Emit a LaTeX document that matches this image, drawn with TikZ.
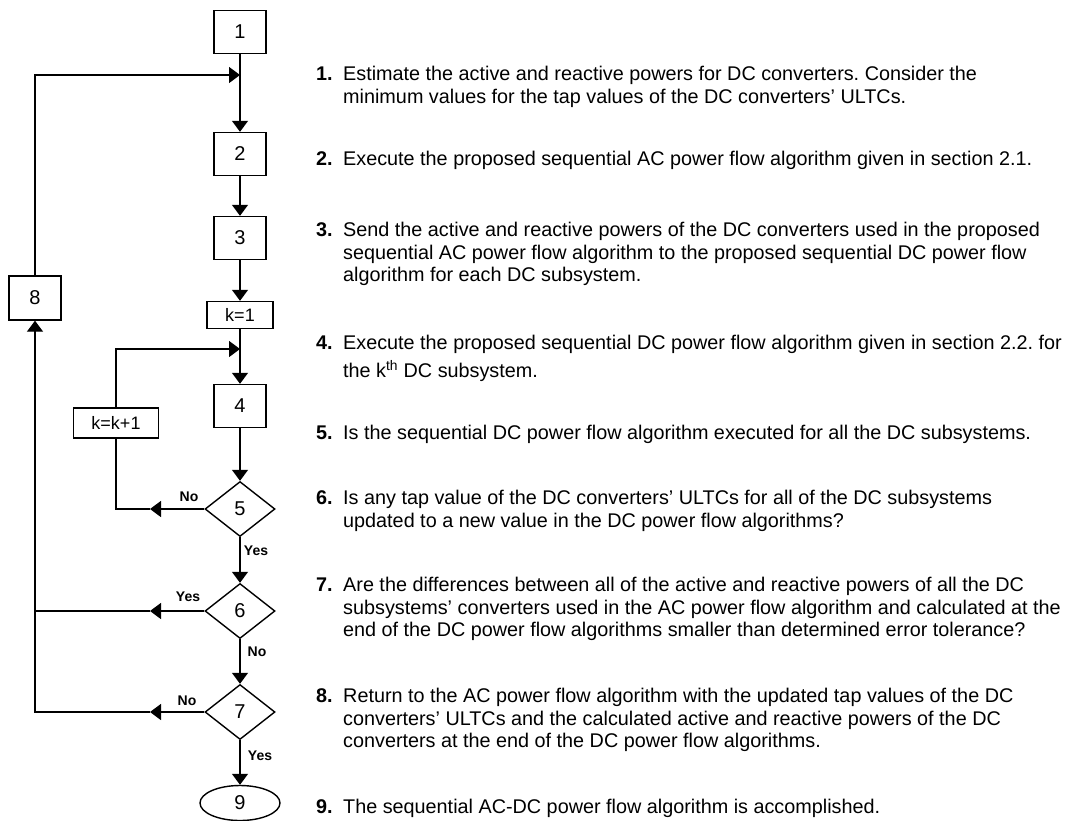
\documentclass[tikz,border=0pt]{standalone}
\usepackage{fontspec}
\setmainfont{Liberation Sans}
\usetikzlibrary{arrows.meta,shapes.geometric}
\frenchspacing

\begin{document}
\begin{tikzpicture}[x=1pt,y=-1pt,
	box/.style={draw, line width=1.4pt, minimum width=52pt, minimum height=43pt, inner sep=0pt, font=\fontsize{20}{20}\selectfont},
	kbox/.style={draw, line width=1.4pt, minimum height=27pt, inner sep=0pt, font=\fontsize{18}{18}\selectfont},
	dec/.style={draw, diamond, line width=1.4pt, minimum width=70pt, minimum height=55pt, inner sep=0pt, font=\fontsize{20}{20}\selectfont},
	term/.style={draw, ellipse, line width=1.4pt, minimum width=80pt, minimum height=35pt, inner sep=0pt, font=\fontsize{20}{20}\selectfont},
	flow/.style={line width=1.4pt, -{Triangle[length=11pt,width=16pt]}},
	wire/.style={line width=1.4pt},
	lbl/.style={inner sep=0pt, font=\fontsize{14}{14}\selectfont\bfseries},
	num/.style={anchor=north west, inner sep=0pt, font=\fontsize{19.8}{22.3}\selectfont\bfseries},
	item/.style={anchor=north west, inner sep=0pt, align=left, font=\fontsize{19.8}{22.3}\selectfont}]
	\useasboundingbox (0,0) rectangle (1065,820);
	% flow chart
	\node[box] (b1) at (240,32) {1};
	\node[box] (b2) at (240,154) {2};
	\node[box] (b3) at (240,238) {3};
	\node[kbox, minimum width=66pt] (k1) at (240,315) {k=1};
	\node[box] (b4) at (240,406) {4};
	\node[kbox, minimum width=85pt, minimum height=30pt] (kk) at (116,423) {k=k+1};
	\node[dec] (d5) at (240,509) {5};
	\node[dec] (d6) at (240,611) {6};
	\node[dec] (d7) at (240,712) {7};
	\node[term] (t9) at (240,803) {9};
	\node[box, minimum height=44pt] (b8) at (35,298) {8};
	\coordinate (j1) at (240,75);
	\coordinate (j2) at (240,349);
	\coordinate (a5) at (150,509);
	\coordinate (a6) at (150,611);
	\coordinate (a7) at (150,712);
	\draw[flow] (b1) -- (b2);
	\draw[flow] (b2) -- (b3);
	\draw[flow] (b3) -- (k1);
	\draw[flow] (k1) -- (b4);
	\draw[flow] (b4) -- (d5);
	\draw[flow] (d5) -- (d6);
	\draw[flow] (d6) -- (d7);
	\draw[flow] (d7) -- (t9);
	\draw[flow] (kk) |- (j2);
	\draw[flow] (b8) |- (j1);
	\draw[flow] (d5.west) -- (a5);
	\draw[wire] (a5) -| (kk.south);
	\draw[flow] (d6.west) -- (a6);
	\draw[wire] (a6) -- (a6 -| b8);
	\draw[flow] (d7.west) -- (a7);
	\draw[flow] (a7) -| (b8.south);
	% yes / no
	\node[lbl] (n5) at (189,497) {No};
	\node[lbl] (y5) at (256,551) {Yes};
	\node[lbl] (y6) at (188,597) {Yes};
	\node[lbl] (n6) at (257,652) {No};
	\node[lbl] (n7) at (187,701) {No};
	\node[lbl] (y7) at (260,756) {Yes};
	% steps
	\node[num] (s1) at (316,65) {\strut 1.};
	\node[item] (t1) at (343,65) {\strut Estimate the active and reactive powers for DC converters. Consider the\\minimum values for the tap values of the DC converters' ULTCs.};
	\node[num] (s2) at (316,150) {\strut 2.};
	\node[item] (t2) at (343,150) {\strut Execute the proposed sequential AC power flow algorithm given in section 2.1.};
	\node[num] (s3) at (316,221) {\strut 3.};
	\node[item] (t3) at (343,221) {\strut Send the active and reactive powers of the DC converters used in the proposed\\sequential AC power flow algorithm to the proposed sequential DC power flow\\algorithm for each DC subsystem.};
	\node[num] (s4) at (316,334) {\strut 4.};
	\node[item] (t4) at (343,334) {\strut Execute the proposed sequential DC power flow algorithm given in section 2.2. for\\[2.7pt]the k\textsuperscript{th} DC subsystem.};
	\node[num] (s5) at (316,424) {\strut 5.};
	\node[item] (t5) at (343,424) {\strut Is the sequential DC power flow algorithm executed for all the DC subsystems.};
	\node[num] (s6) at (316,489) {\strut 6.};
	\node[item] (t6) at (343,489) {\strut Is any tap value of the DC converters' ULTCs for all of the DC subsystems\\updated to a new value in the DC power flow algorithms?};
	\node[num] (s7) at (316,576) {\strut 7.};
	\node[item] (t7) at (343,576) {\strut Are the differences between all of the active and reactive powers of all the DC\\subsystems' converters used in the AC power flow algorithm and calculated at the\\end of the DC power flow algorithms smaller than determined error tolerance?};
	\node[num] (s8) at (316,687) {\strut 8.};
	\node[item] (t8) at (343,687) {\strut Return to the AC power flow algorithm with the updated tap values of the DC\\converters' ULTCs and the calculated active and reactive powers of the DC\\converters at the end of the DC power flow algorithms.};
	\node[num] (s9) at (316,798) {\strut 9.};
	\node[item] (t9t) at (343,798) {\strut The sequential AC-DC power flow algorithm is accomplished.};
\end{tikzpicture}
\end{document}
